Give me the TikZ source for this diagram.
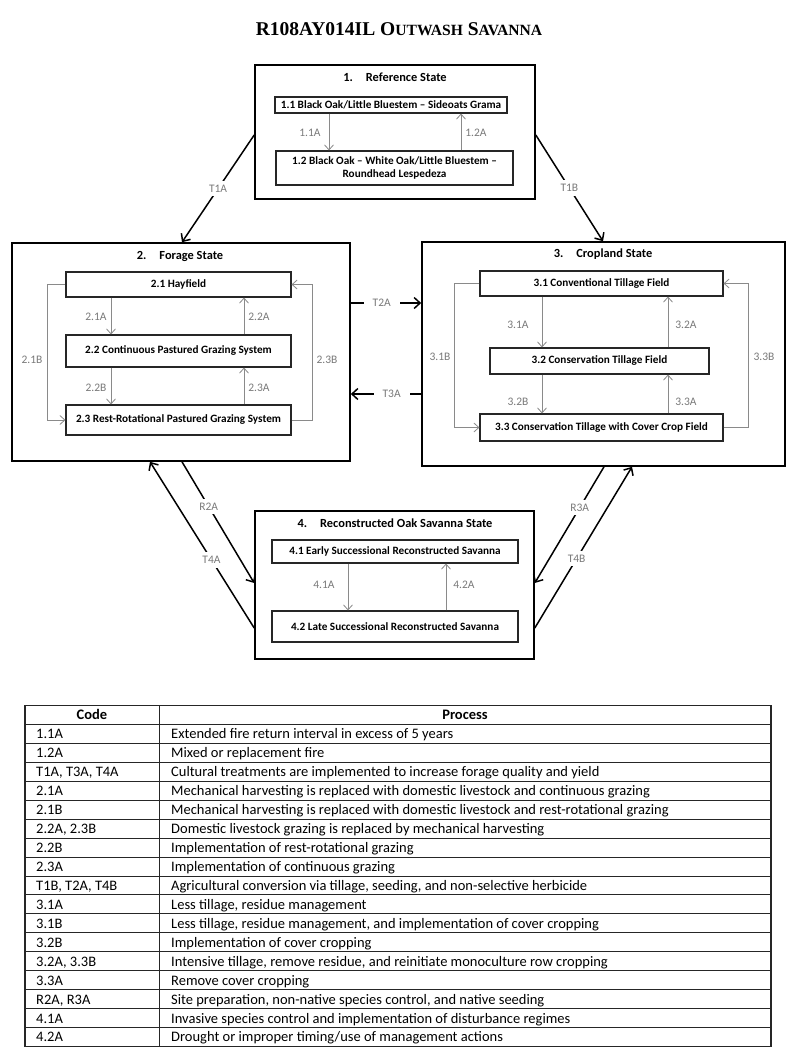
\documentclass[tikz,border=0pt]{standalone}
\usepackage{fontspec}
\setmainfont{Carlito}
\newfontfamily\titlefont{Liberation Serif}
\usetikzlibrary{arrows.meta}
\definecolor{labgray}{HTML}{7A7A7A}
\definecolor{arrgray}{HTML}{8A8A8A}
\begin{document}
\begin{tikzpicture}[x=1pt,y=-1pt,
  mainbox/.style={draw=black, line width=1.6pt, inner sep=0pt},
  subbox/.style={draw=black!85, line width=1.1pt, fill=white, inner sep=0pt, align=center,
    font=\fontsize{11.2}{13.5}\selectfont\bfseries},
  stitle/.style={font=\fontsize{12.4}{14}\selectfont\bfseries, inner sep=0pt},
  lab/.style={text=labgray, font=\fontsize{11.5}{13}\selectfont, inner sep=1pt},
  tlab/.style={lab, fill=white, inner sep=4pt},
  inarr/.style={draw=arrgray, line width=0.8pt, -{Straight Barb[length=5pt,width=9pt]}},
  tarr/.style={draw=black, line width=1.5pt, -{Straight Barb[length=6pt,width=11pt]}},
  tcell/.style={font=\fontsize{14.5}{17}\selectfont, inner sep=0pt, anchor=base west},
  thead/.style={font=\fontsize{14.5}{17}\selectfont\bfseries, inner sep=0pt, anchor=base},
  tline/.style={draw=black!85, line width=0.9pt}
]
\fill[white] (0,0) rectangle (800,1062);
\useasboundingbox (0,0) rectangle (800,1062);

% title
\node[font=\titlefont\fontsize{19.5}{22}\selectfont\bfseries, inner sep=0pt] (title) at (399,29.5)
  {R108AY014IL O{\fontsize{15.6}{18}\selectfont UTWASH} S{\fontsize{15.6}{18}\selectfont AVANNA}};

% ---------- State 1 ----------
\node[mainbox, minimum width=280, minimum height=134] (b1) at (395,132) {};
\node[stitle] (t1) at (395,77) {1.\hspace{13pt}Reference State};
\node[subbox, minimum width=232, minimum height=16] (s11) at (391,105)
  {1.1 Black Oak/Little Bluestem -- Sideoats Grama};
\node[subbox, minimum width=237, minimum height=34] (s12) at (394.5,168)
  {1.2 Black Oak -- White Oak/Little Bluestem --\\Roundhead Lespedeza};
\draw[inarr] (s11.south -| 329,0) -- (s12.north -| 329,0);
\draw[inarr] (s12.north -| 461,0) -- (s11.south -| 461,0);
\node[lab] (l11a) at (310,133) {1.1A};
\node[lab] (l12a) at (476,133) {1.2A};

% ---------- State 2 ----------
\node[mainbox, minimum width=338, minimum height=218] (b2) at (181,352) {};
\node[stitle] (t2) at (180,256) {2.\hspace{13pt}Forage State};
\node[subbox, minimum width=225, minimum height=25] (s21) at (178.5,284.5) {2.1 Hayfield};
\node[subbox, minimum width=225, minimum height=32] (s22) at (178.5,351) {2.2 Continuous Pastured Grazing System};
\node[subbox, minimum width=225, minimum height=30] (s23) at (178.5,420) {2.3 Rest-Rotational Pastured Grazing System};
\draw[inarr] (s21.south -| 111,0) -- (s22.north -| 111,0);
\draw[inarr] (s22.north -| 244,0) -- (s21.south -| 244,0);
\draw[inarr] (s22.south -| 111,0) -- (s23.north -| 111,0);
\draw[inarr] (s23.north -| 244,0) -- (s22.south -| 244,0);
\draw[inarr] (s21.west) -- (47,284.5) |- (s23.west);
\draw[inarr] (s23.east) -- (312,420) |- (s21.east);
\node[lab] (l21a) at (96,317) {2.1A};
\node[lab] (l22a) at (259,317) {2.2A};
\node[lab] (l22b) at (96,388) {2.2B};
\node[lab] (l23a) at (259,388) {2.3A};
\node[lab] (l21b) at (32,360) {2.1B};
\node[lab] (l23b) at (327,360) {2.3B};

% ---------- State 3 ----------
\node[mainbox, minimum width=363, minimum height=224] (b3) at (603.5,354) {};
\node[stitle] (t3) at (603,254) {3.\hspace{13pt}Cropland State};
\node[subbox, minimum width=243, minimum height=25] (s31) at (601.5,283.5) {3.1 Conventional Tillage Field};
\node[subbox, minimum width=219, minimum height=26] (s32) at (599.5,361) {3.2 Conservation Tillage Field};
\node[subbox, minimum width=243, minimum height=27] (s33) at (601.5,427.5) {3.3 Conservation Tillage with Cover Crop Field};
\draw[inarr] (s31.south -| 542,0) -- (s32.north -| 542,0);
\draw[inarr] (s32.north -| 668,0) -- (s31.south -| 668,0);
\draw[inarr] (s32.south -| 542,0) -- (s33.north -| 542,0);
\draw[inarr] (s33.north -| 668,0) -- (s32.south -| 668,0);
\draw[inarr] (s31.west) -- (454,283.5) |- (s33.west);
\draw[inarr] (s33.east) -- (748,427.5) |- (s31.east);
\node[lab] (l31a) at (518,325) {3.1A};
\node[lab] (l32a) at (686,325) {3.2A};
\node[lab] (l32b) at (518,402) {3.2B};
\node[lab] (l33a) at (686,402) {3.3A};
\node[lab] (l31b) at (440,357) {3.1B};
\node[lab] (l33b) at (764,357) {3.3B};

% ---------- State 4 ----------
\node[mainbox, minimum width=279, minimum height=148] (b4) at (394.5,585) {};
\node[stitle] (t4) at (395,523) {4.\hspace{13pt}Reconstructed Oak Savanna State};
\node[subbox, minimum width=246, minimum height=23] (s41) at (395,551.5) {4.1 Early Successional Reconstructed Savanna};
\node[subbox, minimum width=246, minimum height=31] (s42) at (395,626.5) {4.2 Late Successional Reconstructed Savanna};
\draw[inarr] (s41.south -| 348,0) -- (s42.north -| 348,0);
\draw[inarr] (s42.north -| 446,0) -- (s41.south -| 446,0);
\node[lab] (l41a) at (324,585) {4.1A};
\node[lab] (l42a) at (464,585) {4.2A};

% ---------- transitions ----------
\draw[tarr] (b1.west |- 0,135) -- (b2.north -| 182,0) node[tlab, pos=0.5] (lt1a) {T1A};
\draw[tarr] (b1.east |- 0,135) -- (b3.north -| 603,0) node[tlab, pos=0.5] (lt1b) {T1B};
\draw[tarr] (b2.east |- 0,303) -- (b3.west |- 0,303) node[tlab, pos=0.44, inner xsep=9pt] (lt2a) {T2A};
\draw[tarr] (b3.west |- 0,394) -- (b2.east |- 0,394) node[tlab, pos=0.42, inner xsep=9pt] (lt3a) {T3A};
\draw[tarr] (b2.south -| 182,0) -- (b4.west |- 0,583) node[tlab, pos=0.37] (lr2a) {R2A};
\draw[tarr] (b4.west |- 0,628) -- (b2.south -| 150,0) node[tlab, pos=0.41] (lt4a) {T4A};
\draw[tarr] (b3.south -| 604,0) -- (b4.east |- 0,583) node[tlab, pos=0.35] (lr3a) {R3A};
\draw[tarr] (b4.east |- 0,628) -- (b3.south -| 632,0) node[tlab, pos=0.43] (lt4b) {T4B};

% ---------- table ----------
\def\ttop{705.5}
\def\trow{18.94}
\foreach \k in {1,...,17} {
  \draw[tline] (25,\ttop+\k*\trow) -- (771,\ttop+\k*\trow);
}
\draw[tline] (159,\ttop) -- (159,\ttop+18*\trow);
\draw[draw=black!85, line width=1.1pt] (25,\ttop) rectangle (771,\ttop+18*\trow);
\node[thead] (hcode) at (92,\ttop+0.5*\trow+5) {Code};
\node[thead] (hproc) at (465,\ttop+0.5*\trow+5) {Process};
\foreach \c/\p [count=\i] in {
  {1.1A}/{Extended fire return interval in excess of 5 years},
  {1.2A}/{Mixed or replacement fire},
  {T1A, T3A, T4A}/{Cultural treatments are implemented to increase forage quality and yield},
  {2.1A}/{Mechanical harvesting is replaced with domestic livestock and continuous grazing},
  {2.1B}/{Mechanical harvesting is replaced with domestic livestock and rest-rotational grazing},
  {2.2A, 2.3B}/{Domestic livestock grazing is replaced by mechanical harvesting},
  {2.2B}/{Implementation of rest-rotational grazing},
  {2.3A}/{Implementation of continuous grazing},
  {T1B, T2A, T4B}/{Agricultural conversion via tillage, seeding, and non-selective herbicide},
  {3.1A}/{Less tillage, residue management},
  {3.1B}/{Less tillage, residue management, and implementation of cover cropping},
  {3.2B}/{Implementation of cover cropping},
  {3.2A, 3.3B}/{Intensive tillage, remove residue, and reinitiate monoculture row cropping},
  {3.3A}/{Remove cover cropping},
  {R2A, R3A}/{Site preparation, non-native species control, and native seeding},
  {4.1A}/{Invasive species control and implementation of disturbance regimes},
  {4.2A}/{Drought or improper timing/use of management actions}} {
  \node[tcell] (c\i) at (36,\ttop+\i*\trow+0.5*\trow+5) {\c};
  \node[tcell] (p\i) at (171,\ttop+\i*\trow+0.5*\trow+5) {\p};
}
\end{tikzpicture}
\end{document}
